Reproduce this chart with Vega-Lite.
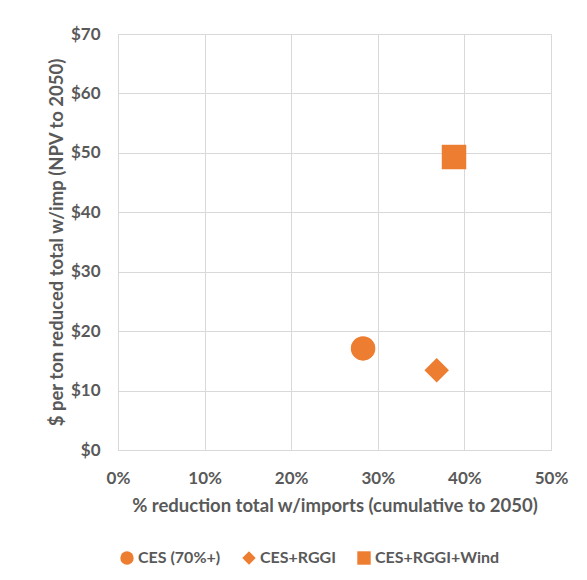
{
  "$schema": "https://vega.github.io/schema/vega-lite/v6.json",
  "width": 433,
  "height": 416,
  "autosize": {"type": "none"},
  "padding": {"left": 118, "top": 34, "right": 36, "bottom": 130},
  "background": "white",
  "data": {
    "values": [
      {"scenario": "CES (70%+)", "reduction": 0.283, "cost": 17.1},
      {"scenario": "CES+RGGI", "reduction": 0.368, "cost": 13.4},
      {"scenario": "CES+RGGI+Wind", "reduction": 0.388, "cost": 49.3}
    ]
  },
  "mark": {"type": "point", "filled": true, "size": 600, "opacity": 1},
  "encoding": {
    "x": {
      "field": "reduction",
      "type": "quantitative",
      "scale": {"domain": [0, 0.5], "nice": false, "zero": true},
      "axis": {
        "values": [0, 0.1, 0.2, 0.3, 0.4, 0.5],
        "format": ".0%",
        "title": "% reduction total w/imports (cumulative to 2050)",
        "ticks": false,
        "labelFlush": false,
        "labelPadding": 20,
        "titlePadding": 10
      }
    },
    "y": {
      "field": "cost",
      "type": "quantitative",
      "scale": {"domain": [0, 70], "nice": false},
      "axis": {
        "values": [0, 10, 20, 30, 40, 50, 60, 70],
        "format": "$.0f",
        "title": "$ per ton reduced total w/imp (NPV to 2050)",
        "ticks": false,
        "labelFlush": false,
        "labelPadding": 18,
        "titlePadding": 4
      }
    },
    "shape": {
      "field": "scenario",
      "type": "nominal",
      "scale": {"domain": ["CES (70%+)", "CES+RGGI", "CES+RGGI+Wind"], "range": ["circle", "diamond", "square"]},
      "legend": {
        "title": null,
        "orient": "none",
        "direction": "horizontal",
        "legendX": 1,
        "legendY": 516,
        "symbolSize": 180,
        "symbolFillColor": "#ED7D31",
        "symbolStrokeWidth": 0,
        "labelOffset": 3,
        "columnPadding": 20
      }
    },
    "color": {"value": "#ED7D31"}
  },
  "config": {
    "font": "Lato",
    "view": {"stroke": null},
    "axis": {
      "domainColor": "#D9D9D9",
      "gridColor": "#D9D9D9",
      "gridWidth": 1,
      "labelColor": "#595959",
      "labelFont": "Lato",
      "labelFontSize": 17,
      "labelFontWeight": "bold",
      "titleColor": "#595959",
      "titleFont": "Lato",
      "titleFontSize": 18.5,
      "titleFontWeight": "bold"
    },
    "legend": {
      "labelColor": "#595959",
      "labelFont": "Lato",
      "labelFontSize": 16,
      "labelFontWeight": "bold"
    }
  }
}
